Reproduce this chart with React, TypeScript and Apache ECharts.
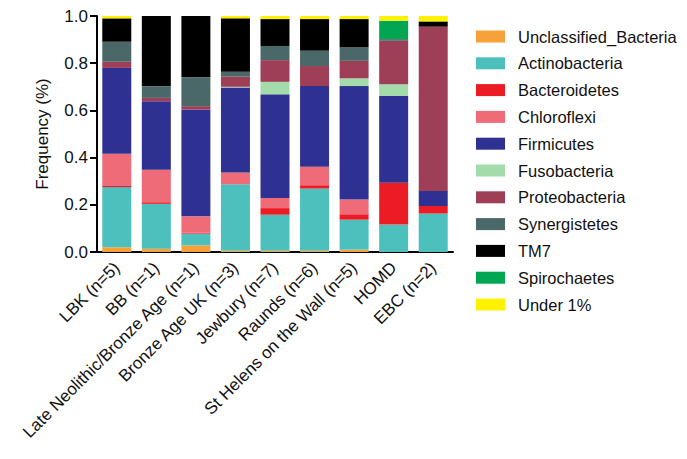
import React, { useEffect, useRef } from "react";
import * as echarts from "echarts";

const categories = [
  "LBK (n=5)",
  "BB (n=1)",
  "Late Neolithic/Bronze Age (n=1)",
  "Bronze Age UK (n=3)",
  "Jewbury (n=7)",
  "Raunds (n=6)",
  "St Helens on the Wall (n=5)",
  "HOMD",
  "EBC (n=2)",
];

const seriesNames = [
  "Unclassified_Bacteria",
  "Actinobacteria",
  "Bacteroidetes",
  "Chloroflexi",
  "Firmicutes",
  "Fusobacteria",
  "Proteobacteria",
  "Synergistetes",
  "TM7",
  "Spirochaetes",
  "Under 1%",
];

const colors = [
  "#F7A13B",
  "#4DBFBC",
  "#EC1C24",
  "#EF6B77",
  "#2E3192",
  "#A3DCAA",
  "#9E3F57",
  "#4B6868",
  "#000000",
  "#00A651",
  "#FFF200",
];

const unclassified = [0.02, 0.014, 0.028, 0.005, 0.005, 0.005, 0.01, 0, 0];
const actinobacteria = [0.255, 0.19, 0.05, 0.282, 0.153, 0.264, 0.127, 0.116, 0.163];
const bacteroidetes = [0.005, 0.007, 0.004, 0, 0.028, 0.014, 0.023, 0.177, 0.032];
const chloroflexi = [0.136, 0.138, 0.069, 0.05, 0.043, 0.078, 0.062, 0, 0];
const firmicutes = [0.364, 0.29, 0.453, 0.36, 0.439, 0.342, 0.481, 0.368, 0.064];
const fusobacteria = [0, 0, 0, 0.003, 0.053, 0, 0.033, 0.05, 0];
const proteobacteria = [0.026, 0.014, 0.014, 0.043, 0.092, 0.085, 0.074, 0.184, 0.696];
const synergistetes = [0.085, 0.05, 0.122, 0.021, 0.06, 0.065, 0.057, 0.007, 0];
const tm7 = [0.099, 0.297, 0.26, 0.226, 0.114, 0.134, 0.12, 0, 0.022];
const spirochaetes = [0, 0, 0, 0, 0, 0, 0, 0.078, 0];
const under1 = [0.01, 0, 0, 0.01, 0.013, 0.013, 0.013, 0.02, 0.023];

const seriesValues = [
  unclassified,
  actinobacteria,
  bacteroidetes,
  chloroflexi,
  firmicutes,
  fusobacteria,
  proteobacteria,
  synergistetes,
  tm7,
  spirochaetes,
  under1,
];

const yTicks = [0, 0.2, 0.4, 0.6, 0.8, 1.0];

export default function App() {
  const ref = useRef<HTMLDivElement>(null);
  useEffect(() => {
    if (!ref.current) return;
    const chart = echarts.init(ref.current, null, { renderer: "svg" });
    const font = "Liberation Sans, Arial, sans-serif";
    chart.setOption({
      animation: false,
      backgroundColor: "#ffffff",
      color: colors,
      grid: { left: 97, right: 234, top: 16, bottom: 207, containLabel: false },
      legend: {
        orient: "vertical",
        left: 471,
        top: 23,
        padding: [5, 0, 5, 5],
        itemWidth: 29,
        itemHeight: 12,
        itemGap: 9.8,
        icon: "rect",
        textStyle: {
          fontFamily: font,
          fontSize: 16.5,
          color: "#111",
          lineHeight: 17,
          padding: [0, 0, 0, 8],
        },
        data: seriesNames,
      },
      xAxis: {
        type: "category",
        data: categories,
        axisLine: { lineStyle: { color: "#000", width: 2 } },
        axisTick: { alignWithLabel: true, length: 7, lineStyle: { color: "#000", width: 2 } },
        axisLabel: {
          rotate: 45,
          interval: 0,
          fontFamily: font,
          fontSize: 17,
          color: "#111",
          margin: 13,
        },
      },
      yAxis: {
        type: "value",
        min: 0,
        max: 1,
        interval: 0.2,
        name: "Frequency (%)",
        nameLocation: "middle",
        nameGap: 46,
        nameTextStyle: { fontFamily: font, fontSize: 17, color: "#111" },
        axisLine: { show: true, lineStyle: { color: "#000", width: 2 } },
        axisTick: { show: true, length: 7, lineStyle: { color: "#000", width: 2 } },
        splitLine: { show: false },
        axisLabel: {
          fontFamily: font,
          fontSize: 17,
          color: "#111",
          margin: 9,
          formatter: (v: number) => (yTicks.includes(Math.round(v * 10) / 10) ? v.toFixed(1) : ""),
        },
      },
      series: seriesNames.map((name, i) => ({
        name,
        type: "bar",
        stack: "total",
        barWidth: 29,
        data: seriesValues[i],
        itemStyle: { color: colors[i] },
      })),
    });
    return () => chart.dispose();
  }, []);
  return <div ref={ref} style={{ width: 687, height: 459, margin: -8 }} />;
}
